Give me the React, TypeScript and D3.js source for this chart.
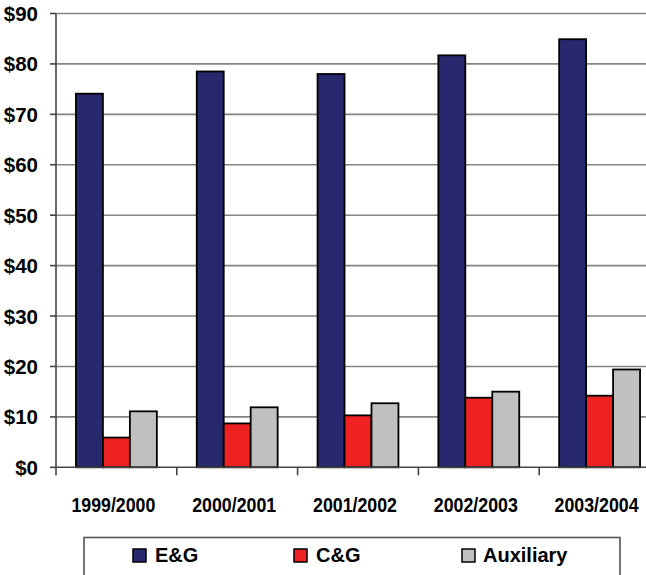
import React from "react";
import * as d3 from "d3";

const categories = ["1999/2000", "2000/2001", "2001/2002", "2002/2003", "2003/2004"];
const seriesNames = ["E&G", "C&G", "Auxiliary"];
const egValues = [74.1, 78.5, 78.0, 81.7, 84.9];
const cgValues = [5.9, 8.7, 10.3, 13.8, 14.2];
const auxValues = [11.1, 11.9, 12.7, 15.0, 19.4];
const yTicks = [0, 10, 20, 30, 40, 50, 60, 70, 80, 90];
const colors = ["#28286e", "#ee2222", "#c0c0c0"];

export default function App() {
  const W = 646, H = 575;
  const left = 56, right = 660, top = 13.5, bottom = 467.3;
  const x0 = d3.scaleBand<string>().domain(categories).range([left, right]).paddingInner(0).paddingOuter(0);
  const x1 = d3.scaleBand<string>().domain(seriesNames).range([0, x0.bandwidth()]).paddingInner(0).paddingOuter(0.74);
  const y = d3.scaleLinear().domain([0, 90]).range([bottom, top]);
  const series = [egValues, cgValues, auxValues];
  const font = "'Liberation Sans', Arial, sans-serif";

  const legendItems = [
    { name: seriesNames[0], sx: 133, tx: 155 },
    { name: seriesNames[1], sx: 294, tx: 316 },
    { name: seriesNames[2], sx: 462, tx: 483 },
  ];

  return (
    <svg width={W} height={H} style={{ position: "absolute", left: 0, top: 0, background: "#fff" }} fontFamily={font}>
      {/* gridlines */}
      {yTicks.filter(t => t > 0).map(t => (
        <line key={"g" + t} x1={left} x2={W} y1={y(t)} y2={y(t)} stroke="#858585" strokeWidth={1.6} />
      ))}
      {/* bars */}
      {categories.map((c, ci) => (
        <g key={c}>
          {series.map((vals, si) => {
            const bx = (x0(c) as number) + (x1(seriesNames[si]) as number);
            return (
              <rect key={si} x={bx} y={y(vals[ci])} width={x1.bandwidth()} height={y(0) - y(vals[ci])}
                fill={colors[si]} stroke="#000" strokeWidth={1.8} />
            );
          })}
        </g>
      ))}
      {/* axes */}
      <line x1={left} x2={left} y1={top} y2={bottom} stroke="#444" strokeWidth={1.6} />
      <line x1={left} x2={W} y1={bottom} y2={bottom} stroke="#444" strokeWidth={1.6} />
      {yTicks.map(t => (
        <g key={"t" + t}>
          <line x1={50} x2={left} y1={y(t)} y2={y(t)} stroke="#444" strokeWidth={1.6} />
          <text x={38} y={y(t) + 7.5} textAnchor="end" fontSize={20.5} fontWeight="bold" fill="#000">${t}</text>
        </g>
      ))}
      {categories.map((c, i) => (
        <line key={"ct" + i} x1={x0(c) as number} x2={x0(c) as number} y1={bottom} y2={bottom + 8} stroke="#444" strokeWidth={1.6} />
      ))}
      {categories.map(c => (
        <text key={"cl" + c} x={(x0(c) as number) + x0.bandwidth() / 2 - 3} y={512} textAnchor="middle" fontSize={19.5}
          fontWeight="bold" fill="#000" textLength={84} lengthAdjust="spacingAndGlyphs">{c}</text>
      ))}
      {/* legend */}
      <rect x={84} y={537.5} width={536} height={60} fill="#fff" stroke="#555" strokeWidth={1.6} />
      {legendItems.map((it, i) => (
        <g key={it.name}>
          <rect x={it.sx} y={549} width={13} height={13} fill={colors[i]} stroke="#000" strokeWidth={1.5} />
          <text x={it.tx} y={562} fontSize={20} fontWeight="bold" fill="#000">{it.name}</text>
        </g>
      ))}
    </svg>
  );
}
